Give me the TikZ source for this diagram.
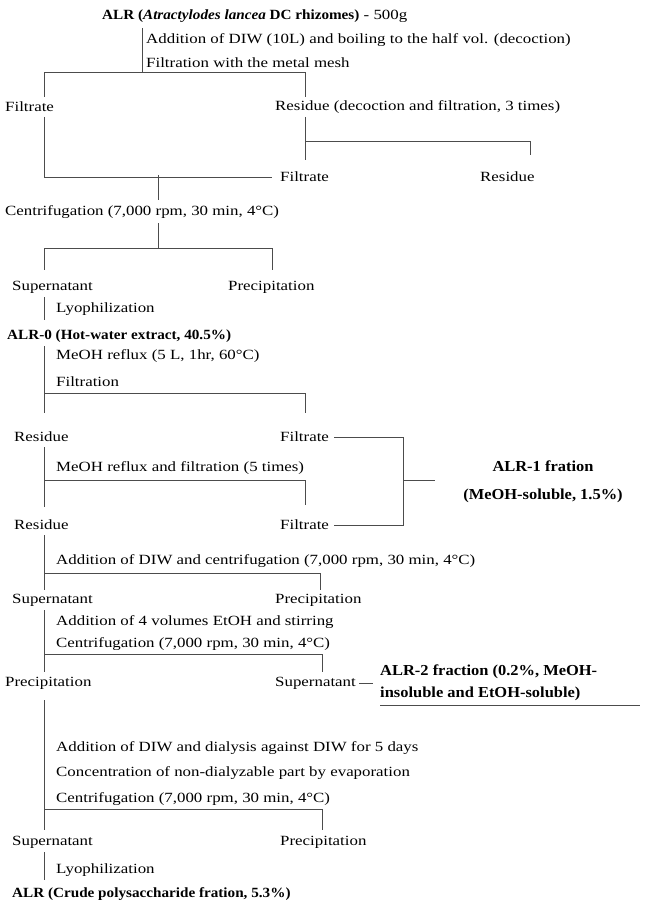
\documentclass[12pt,tikz,border=0pt]{standalone}
\usepackage{fontspec}
\setmainfont{Liberation Serif}
\newfontfamily\wide{Liberation Serif}[FakeStretch=1.2]
\newfontfamily\bwide{Liberation Serif}[FakeStretch=1.08]
\begin{document}
\begin{tikzpicture}[x=0.3mm,y=-0.3mm,
        txt/.style={anchor=west, inner sep=0pt, font=\wide},
        btxt/.style={inner sep=0pt, font=\bwide\bfseries},
        ln/.style={draw, line width=0.5pt, black!70}]
        \useasboundingbox (0,0) rectangle (647,910);

        % raw material and hot-water extraction
        \node[txt] (alr) at (102,16) {{\bwide\bfseries ALR (\textit{Atractylodes lancea} DC rhizomes)} - 500g};
        \node[txt] (s1) at (146,40) {Addition of DIW (10L) and boiling to the half vol. (decoction)};
        \node[txt] (s2) at (146,63) {Filtration with the metal mesh};
        \node[txt] (filt1) at (5,107) {Filtrate};
        \node[txt] (res1) at (275,107) {Residue (decoction and filtration, 3 times)};
        \node[txt] (filt2) at (280,177) {Filtrate};
        \node[txt] (res2) at (480,177) {Residue};
        \coordinate (v1) at (142,28);
        \coordinate (j1) at (142,72);
        \coordinate (e1) at (44,97);
        \coordinate (e2) at (305,97);
        \coordinate (r1) at (305,117);
        \coordinate (j2) at (305,141);
        \coordinate (r2) at (305,160);
        \coordinate (r3) at (530,155);
        \coordinate (f1) at (44,117);
        \coordinate (j3) at (158,175);

        \path[ln] (v1) -- (j1);
        \path[ln] (j1) -| (e1);
        \path[ln] (j1) -| (e2);
        \path[ln] (r1) -- (r2);
        \path[ln] (j2) -| (r3);
        \path[ln,shorten >=2.4mm] (f1) |- (filt2.west);

        % centrifugation
        \node[txt] (cen1) at (5,212) {Centrifugation (7,000 rpm, 30 min, 4°C)};
        \node[txt] (sup1) at (12,287) {Supernatant};
        \node[txt] (pre1) at (228,287) {Precipitation};
        \node[txt] (lyo1) at (56,309) {Lyophilization};
        \node[btxt,anchor=west] (alr0) at (7,336) {ALR-0 (Hot-water extract, 40.5\%)};
        \coordinate (c1a) at (158,200);
        \coordinate (c1b) at (158,223);
        \coordinate (j4) at (158,248);
        \coordinate (e3) at (44,270);
        \coordinate (e4) at (272,270);
        \coordinate (l1a) at (44,297);
        \coordinate (l1b) at (44,320);

        \path[ln] (j3) -- (c1a);
        \path[ln] (c1b) -- (j4);
        \path[ln] (j4) -| (e3);
        \path[ln] (j4) -| (e4);
        \path[ln] (l1a) -- (l1b);

        % methanol reflux
        \node[txt] (meoh1) at (56,356) {MeOH reflux (5 L, 1hr, 60°C)};
        \node[txt] (filtr1) at (56,382) {Filtration};
        \node[txt] (res3) at (14,437) {Residue};
        \node[txt] (filt3) at (280,437) {Filtrate};
        \node[txt] (meoh2) at (56,468) {MeOH reflux and filtration (5 times)};
        \node[txt] (res5) at (14,525) {Residue};
        \node[txt] (filt5) at (280,525) {Filtrate};
        \node[btxt,font=\bwide\bfseries\fontsize{13}{15}\selectfont] (alr1a) at (543,466) {ALR-1 fration};
        \node[btxt,font=\bwide\bfseries\fontsize{13}{15}\selectfont] (alr1b) at (543,496) {(MeOH-soluble, 1.5\%)};
        \coordinate (m1) at (44,346);
        \coordinate (j5) at (44,393);
        \coordinate (e5) at (44,413);
        \coordinate (e6) at (305,413);
        \coordinate (m2) at (44,447);
        \coordinate (j6) at (44,480);
        \coordinate (e7) at (44,507);
        \coordinate (e8) at (305,505);
        \coordinate (b1) at (403,480);
        \coordinate (b2) at (435,480);

        \path[ln] (m1) -- (e5);
        \path[ln] (j5) -| (e6);
        \path[ln] (m2) -- (e7);
        \path[ln] (j6) -| (e8);
        \path[ln,shorten <=1.5mm] (filt3.east) -| (b1);
        \path[ln,shorten <=1.5mm] (filt5.east) -| (b1);
        \path[ln] (b1) -- (b2);

        % water and ethanol fractionation
        \node[txt] (add2) at (56,561) {Addition of DIW and centrifugation (7,000 rpm, 30 min, 4°C)};
        \node[txt] (sup2) at (12,600) {Supernatant};
        \node[txt] (pre2) at (275,600) {Precipitation};
        \node[txt] (add3) at (56,622) {Addition of 4 volumes EtOH and stirring};
        \node[txt] (cen3) at (56,644) {Centrifugation (7,000 rpm, 30 min, 4°C)};
        \node[txt] (pre3) at (5,683) {Precipitation};
        \node[txt] (sup3) at (275,683) {Supernatant};
        \node[btxt,anchor=west,font=\bwide\bfseries\fontsize{13}{15}\selectfont] (alr2a) at (380,672) {ALR-2 fraction (0.2\%, MeOH-};
        \node[btxt,anchor=west,font=\bwide\bfseries\fontsize{13}{15}\selectfont] (alr2b) at (380,694) {insoluble and EtOH-soluble)};
        \coordinate (m3) at (44,535);
        \coordinate (j7) at (44,573);
        \coordinate (e9) at (44,590);
        \coordinate (e10) at (320,590);
        \coordinate (m4) at (44,610);
        \coordinate (j8) at (44,654);
        \coordinate (e11) at (44,672);
        \coordinate (e12) at (322,672);
        \coordinate (u1) at (380,705);
        \coordinate (u2) at (640,705);

        \path[ln] (m3) -- (e9);
        \path[ln] (j7) -| (e10);
        \path[ln] (m4) -- (e11);
        \path[ln] (j8) -| (e12);
        \path[ln,shorten <=1mm,shorten >=2mm] (sup3.east) -- (alr2a.west |- sup3.east);
        \path[ln] (u1) -- (u2);

        % dialysis and crude polysaccharide
        \node[txt] (dia) at (56,748) {Addition of DIW and dialysis against DIW for 5 days};
        \node[txt] (con) at (56,773) {Concentration of non-dialyzable part by evaporation};
        \node[txt] (cen4) at (56,799) {Centrifugation (7,000 rpm, 30 min, 4°C)};
        \node[txt] (sup4) at (12,842) {Supernatant};
        \node[txt] (pre4) at (280,842) {Precipitation};
        \node[txt] (lyo2) at (56,870) {Lyophilization};
        \node[btxt,anchor=west] (alrf) at (12,894) {ALR (Crude polysaccharide fration, 5.3\%)};
        \coordinate (m5) at (44,700);
        \coordinate (j9) at (44,809);
        \coordinate (e13) at (44,830);
        \coordinate (e14) at (322,830);
        \coordinate (l2a) at (44,852);
        \coordinate (l2b) at (44,880);

        \path[ln] (m5) -- (e13);
        \path[ln] (j9) -| (e14);
        \path[ln] (l2a) -- (l2b);
\end{tikzpicture}
\end{document}
